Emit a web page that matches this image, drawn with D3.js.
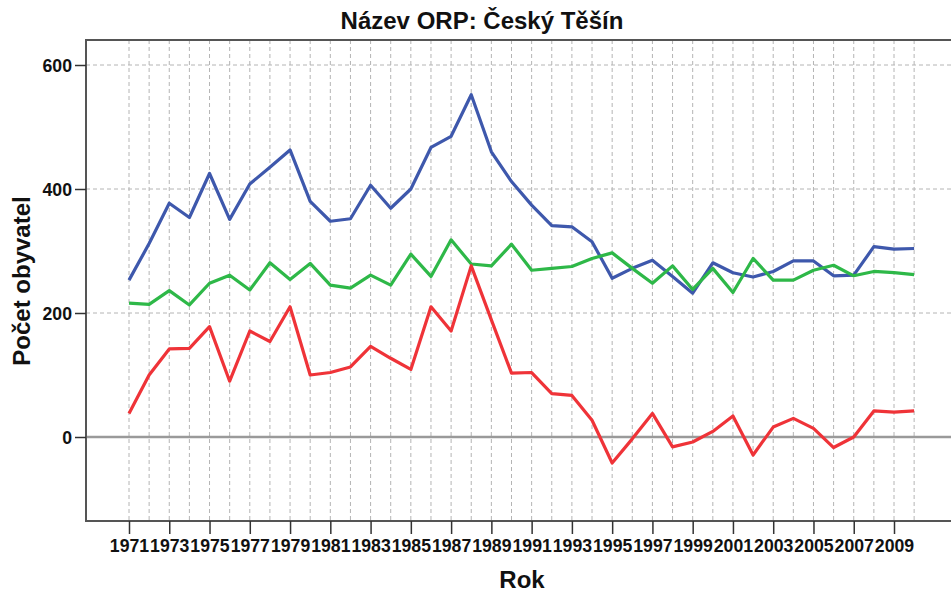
<!DOCTYPE html>
<html>
<head>
<meta charset="utf-8">
<script src="https://cdn.jsdelivr.net/npm/d3@7"></script>
<style>
  body { margin: 0; background: #fff; }
  svg { display: block; }
  text { font-family: "Liberation Sans", Arial, sans-serif; font-weight: bold; fill: #111; }
</style>
</head>
<body>
<svg id="chart" width="951" height="594"></svg>
<script>
// years 1971..2010
const years = d3.range(1971, 2011)
const tickYears = d3.range(1971, 2010, 2)
const yTicks = [0, 200, 400, 600]

const blue = [253, 312, 377, 354, 425, 351, 408, 435, 463, 380,
              348, 352, 406, 369, 400, 467, 485, 552, 460, 412,
              374, 341, 339, 315, 256, 272, 285, 259, 232, 281,
              265, 258, 267, 284, 284, 260, 261, 307, 303, 304]
const green = [216, 214, 236, 213, 248, 261, 237, 281, 254, 280,
               245, 240, 261, 245, 295, 259, 318, 279, 276, 311,
               269, 272, 275, 288, 297, 272, 248, 276, 238, 272,
               233, 288, 253, 253, 269, 277, 260, 267, 265, 262]
const red = [38, 100, 142, 143, 178, 90, 171, 154, 210, 100,
             104, 113, 146, 127, 109, 210, 171, 276, 189, 103,
             104, 70, 67, 27, -42, -3, 38, -16, -8, 9,
             34, -29, 16, 30, 14, -17, 0, 42, 40, 42]

const series = [
    { values: blue, color: '#3e58ac' },
    { values: green, color: '#2eb848' },
    { values: red, color: '#ef3338' }
]

const pLeft = 86, pRight = 951, pTop = 40, pBottom = 521

const svg = d3.select('#chart')
const x = d3.scaleLinear().domain([1971, 2009]).range([129, 894])
const y = d3.scaleLinear().domain([0, 600]).range([437, 65])

// squeeze text horizontally a little, like the original
function condense(sel, f) {
    sel.each(function () {
        const len = this.getComputedTextLength()
        d3.select(this).attr('textLength', len * f).attr('lengthAdjust', 'spacingAndGlyphs')
    })
}

// grid
svg.append('g').selectAll('line')
    .data(years)
    .enter()
    .append('line')
    .attr('x1', d => x(d)).attr('x2', d => x(d))
    .attr('y1', pTop).attr('y2', pBottom)
    .attr('stroke', '#b4b4b4')
    .attr('stroke-width', 1)
    .attr('stroke-dasharray', '4,3')

svg.append('g').selectAll('line')
    .data(yTicks.filter(d => d !== 0))
    .enter()
    .append('line')
    .attr('x1', pLeft).attr('x2', pRight)
    .attr('y1', d => y(d)).attr('y2', d => y(d))
    .attr('stroke', '#b4b4b4')
    .attr('stroke-width', 1)
    .attr('stroke-dasharray', '4,3')

// zero reference line
svg.append('line')
    .attr('x1', pLeft).attr('x2', pRight)
    .attr('y1', y(0)).attr('y2', y(0))
    .attr('stroke', '#9a9a9a')
    .attr('stroke-width', 2.5)

// frame
svg.append('path')
    .attr('d', `M${pRight},${pTop}H${pLeft}V${pBottom}H${pRight}`)
    .attr('fill', 'none')
    .attr('stroke', '#555')
    .attr('stroke-width', 2)

// axes
const yAxis = svg.append('g')
    .attr('transform', `translate(${pLeft},0)`)
    .call(d3.axisLeft(y).tickValues(yTicks).tickSize(11).tickPadding(3).tickFormat(d3.format('d')))
yAxis.select('.domain').remove()
yAxis.selectAll('line').attr('stroke', '#333').attr('stroke-width', 1.5)
yAxis.selectAll('text')
    .attr('font-size', 19)
    .attr('font-family', '"Liberation Sans", Arial, sans-serif')
    .attr('font-weight', 'bold')
    .attr('fill', '#111')
    .call(condense, 0.93)

const xAxis = svg.append('g')
    .attr('transform', `translate(0,${pBottom})`)
    .call(d3.axisBottom(x).tickValues(tickYears).tickSize(13).tickPadding(5).tickFormat(d3.format('d')))
xAxis.select('.domain').remove()
xAxis.selectAll('line').attr('stroke', '#333').attr('stroke-width', 1.5)
xAxis.selectAll('text')
    .attr('font-size', 19)
    .attr('font-family', '"Liberation Sans", Arial, sans-serif')
    .attr('font-weight', 'bold')
    .attr('fill', '#111')
    .call(condense, 0.93)

// series
const line = d3.line()
    .x((d, i) => x(years[i]))
    .y(d => y(d))

svg.append('g').selectAll('path')
    .data(series)
    .enter()
    .append('path')
    .attr('d', d => line(d.values))
    .attr('fill', 'none')
    .attr('stroke', d => d.color)
    .attr('stroke-width', 3.2)
    .attr('stroke-linejoin', 'round')

// titles
svg.append('text')
    .attr('x', 482).attr('y', 29)
    .attr('text-anchor', 'middle')
    .attr('font-size', 24)
    .text('Název ORP: Český Těšín')

svg.append('text')
    .attr('x', 522).attr('y', 588)
    .attr('text-anchor', 'middle')
    .attr('font-size', 24)
    .text('Rok')

svg.append('text')
    .attr('transform', `translate(30,281) rotate(-90)`)
    .attr('text-anchor', 'middle')
    .attr('font-size', 24)
    .text('Počet obyvatel')
</script>
</body>
</html>
